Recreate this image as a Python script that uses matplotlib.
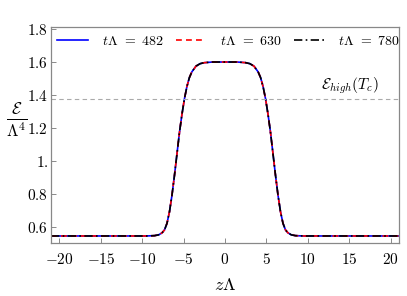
import matplotlib
matplotlib.use("Agg")
import matplotlib.pyplot as plt

plt.rcParams['mathtext.fontset'] = 'cm'
plt.rcParams['font.family'] = 'serif'
plt.rcParams['font.serif'] = ['cmr10', 'DejaVu Serif']

# profile (symmetric about z = 0)
z_half = [0.0, 1.5, 2.5, 3.0, 3.5, 4.0, 4.3, 4.6, 4.9, 5.2, 5.5, 5.8, 6.1,
          6.4, 6.7, 7.0, 7.3, 7.6, 8.0, 8.5, 9.5, 21.0]
e482_half = [1.600, 1.600, 1.596, 1.590, 1.575, 1.540, 1.505, 1.450, 1.375,
             1.280, 1.170, 1.040, 0.910, 0.790, 0.690, 0.620, 0.580, 0.562,
             0.550, 0.545, 0.543, 0.543]
e630_half = [1.600, 1.600, 1.596, 1.590, 1.575, 1.540, 1.505, 1.450, 1.375,
             1.280, 1.170, 1.040, 0.910, 0.790, 0.690, 0.620, 0.580, 0.562,
             0.550, 0.545, 0.543, 0.543]
e780_half = [1.600, 1.600, 1.596, 1.590, 1.575, 1.540, 1.505, 1.450, 1.375,
             1.280, 1.170, 1.040, 0.910, 0.790, 0.690, 0.620, 0.580, 0.562,
             0.550, 0.545, 0.543, 0.543]
e_high_tc = 1.375

labels = [r'$t\Lambda\;\,=\;482$', r'$t\Lambda\;\,=\;630$', r'$t\Lambda\;\,=\;780$']
xticks = [-20, -15, -10, -5, 0, 5, 10, 15, 20]
yticks = [0.6, 0.8, 1.0, 1.2, 1.4, 1.6, 1.8]
yticklabels = ['0.6', '0.8', '1.', '1.2', '1.4', '1.6', '1.8']


def mirror(zs, vs):
    z = [-v for v in zs[::-1]] + zs[1:]
    e = vs[::-1] + vs[1:]
    return z, e


fig = plt.figure(figsize=(4.07, 2.96), dpi=100)
ax = fig.add_axes([0.1253, 0.180, 0.8550, 0.730])

z, e = mirror(z_half, e482_half)
ax.plot(z, e, color='#0000ff', lw=1.2, ls='-', label=labels[0])
z, e = mirror(z_half, e630_half)
ax.plot(z, e, color='#ff0000', lw=1.2, ls=(0, (3.5, 2.5)), label=labels[1])
z, e = mirror(z_half, e780_half)
ax.plot(z, e, color='black', lw=1.2, ls=(0, (5, 2, 1, 2)), label=labels[2])

ax.axhline(e_high_tc, color='#aaaaaa', lw=0.8, ls=(0, (4, 3)))
ax.text(18.6, e_high_tc + 0.018, r'$\mathcal{E}_{high}(T_c)$', ha='right',
        va='bottom', fontsize=11)

ax.set_xlim(-21, 21)
ax.set_ylim(0.502, 1.815)
ax.set_xticks(xticks)
ax.set_xticklabels(['$%d$' % t for t in xticks], fontsize=11)
ax.set_yticks(yticks)
ax.set_yticklabels(['$%s$' % t for t in yticklabels], fontsize=11)
ax.tick_params(direction='in', length=3.5, width=0.6, color='#777777')
ax.tick_params(axis='y', pad=2)
ax.tick_params(axis='x', pad=7)

for s in ax.spines.values():
    s.set_color('#888888')
    s.set_linewidth(0.9)

ax.set_xlabel(r'$z\Lambda$', fontsize=13, labelpad=7)
ax.set_ylabel(r'$\frac{\mathcal{E}}{\Lambda^4}$', fontsize=17, rotation=0,
              va='center', ha='center')
ax.yaxis.set_label_coords(-0.1, 0.565)

ax.legend(loc='upper center', ncol=3, frameon=False, fontsize=10,
          handlelength=2.2, columnspacing=0.9, handletextpad=1.0,
          bbox_to_anchor=(0.51, 1.02))

fig.savefig('out.png', dpi=100)
